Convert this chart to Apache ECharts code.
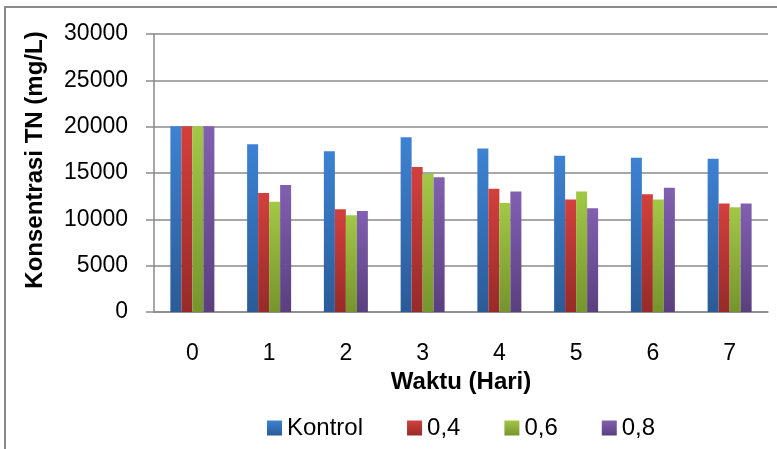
<!DOCTYPE html>
<html>
<head>
<meta charset="utf-8">
<script src="https://cdn.jsdelivr.net/npm/echarts@6/dist/echarts.min.js"></script>
<style>
  html, body { margin: 0; padding: 0; background: #fff; }
  #main { width: 777px; height: 449px; }
</style>
</head>
<body>
<div id="main"></div>
<script>
var days = ["0", "1", "2", "3", "4", "5", "6", "7"]
var kontrol = [20050, 18100, 17350, 18850, 17650, 16850, 16650, 16550]
var dosis04 = [20050, 12850, 11100, 15650, 13300, 12150, 12700, 11700]
var dosis06 = [20050, 11900, 10450, 14900, 11750, 13000, 12150, 11300]
var dosis08 = [20050, 13700, 10900, 14550, 13000, 11200, 13400, 11700]
var seriesNames = ["Kontrol", "0,4", "0,6", "0,8"]

var chartDom = document.getElementById("main")
var myChart = echarts.init(chartDom)
var option

var font = "Liberation Sans"

function grad(top, bottom) {
    return new echarts.graphic.LinearGradient(0, 0, 0, 1, [
        { offset: 0, color: top },
        { offset: 1, color: bottom }
    ])
}

var colors = [
    grad("#3d82d3", "#2a5b97"),
    grad("#d2403d", "#972b29"),
    grad("#a2c846", "#76942d"),
    grad("#8160b0", "#5a3f7f")
]

function makeSeries(name, data, i) {
    return {
        name: name,
        type: "bar",
        data: data,
        barWidth: 11,
        barGap: "0%",
        itemStyle: { color: colors[i] }
    }
}

option = {
    backgroundColor: "#fff",
    animation: false,
    textStyle: { fontFamily: font },
    graphic: [
        {
            type: "rect",
            shape: { x: 5, y: 7, width: 800, height: 500 },
            style: { fill: "none", stroke: "#8a8a8a", lineWidth: 2 },
            silent: true
        }
    ],
    grid: {
        left: 154,
        right: 9,
        top: 34,
        bottom: 137
    },
    legend: {
        data: seriesNames,
        left: 262,
        top: 411,
        itemWidth: 15,
        itemHeight: 15,
        itemGap: 44,
        icon: "rect",
        textStyle: { fontSize: 24, color: "#000", fontFamily: font }
    },
    xAxis: {
        type: "category",
        data: days,
        name: "Waktu (Hari)",
        nameLocation: "middle",
        nameGap: 57,
        nameTextStyle: { fontSize: 24, fontWeight: "bold", color: "#000", fontFamily: font },
        axisLine: { lineStyle: { color: "#8a8a8a", width: 1.5 } },
        axisTick: { show: false },
        axisLabel: { fontSize: 23, color: "#000", margin: 30, fontFamily: font }
    },
    yAxis: {
        type: "value",
        min: 0,
        max: 30000,
        interval: 5000,
        name: "Konsentrasi TN (mg/L)",
        nameLocation: "middle",
        nameGap: 107,
        nameTextStyle: { fontSize: 24, fontWeight: "bold", color: "#000", fontFamily: font, padding: [0, 0, 0, 26] },
        axisLine: { show: true, lineStyle: { color: "#8a8a8a", width: 1.5 } },
        axisTick: { show: true, length: 8, lineStyle: { color: "#8a8a8a", width: 1.5 } },
        axisLabel: {
            fontSize: 23,
            color: "#000",
            margin: 26,
            fontFamily: font,
            formatter: function (v) { return String(v) }
        },
        splitLine: { lineStyle: { color: "#8a8a8a", width: 1.5 } }
    },
    series: [
        makeSeries(seriesNames[0], kontrol, 0),
        makeSeries(seriesNames[1], dosis04, 1),
        makeSeries(seriesNames[2], dosis06, 2),
        makeSeries(seriesNames[3], dosis08, 3)
    ]
}

option && myChart.setOption(option)
</script>
</body>
</html>
